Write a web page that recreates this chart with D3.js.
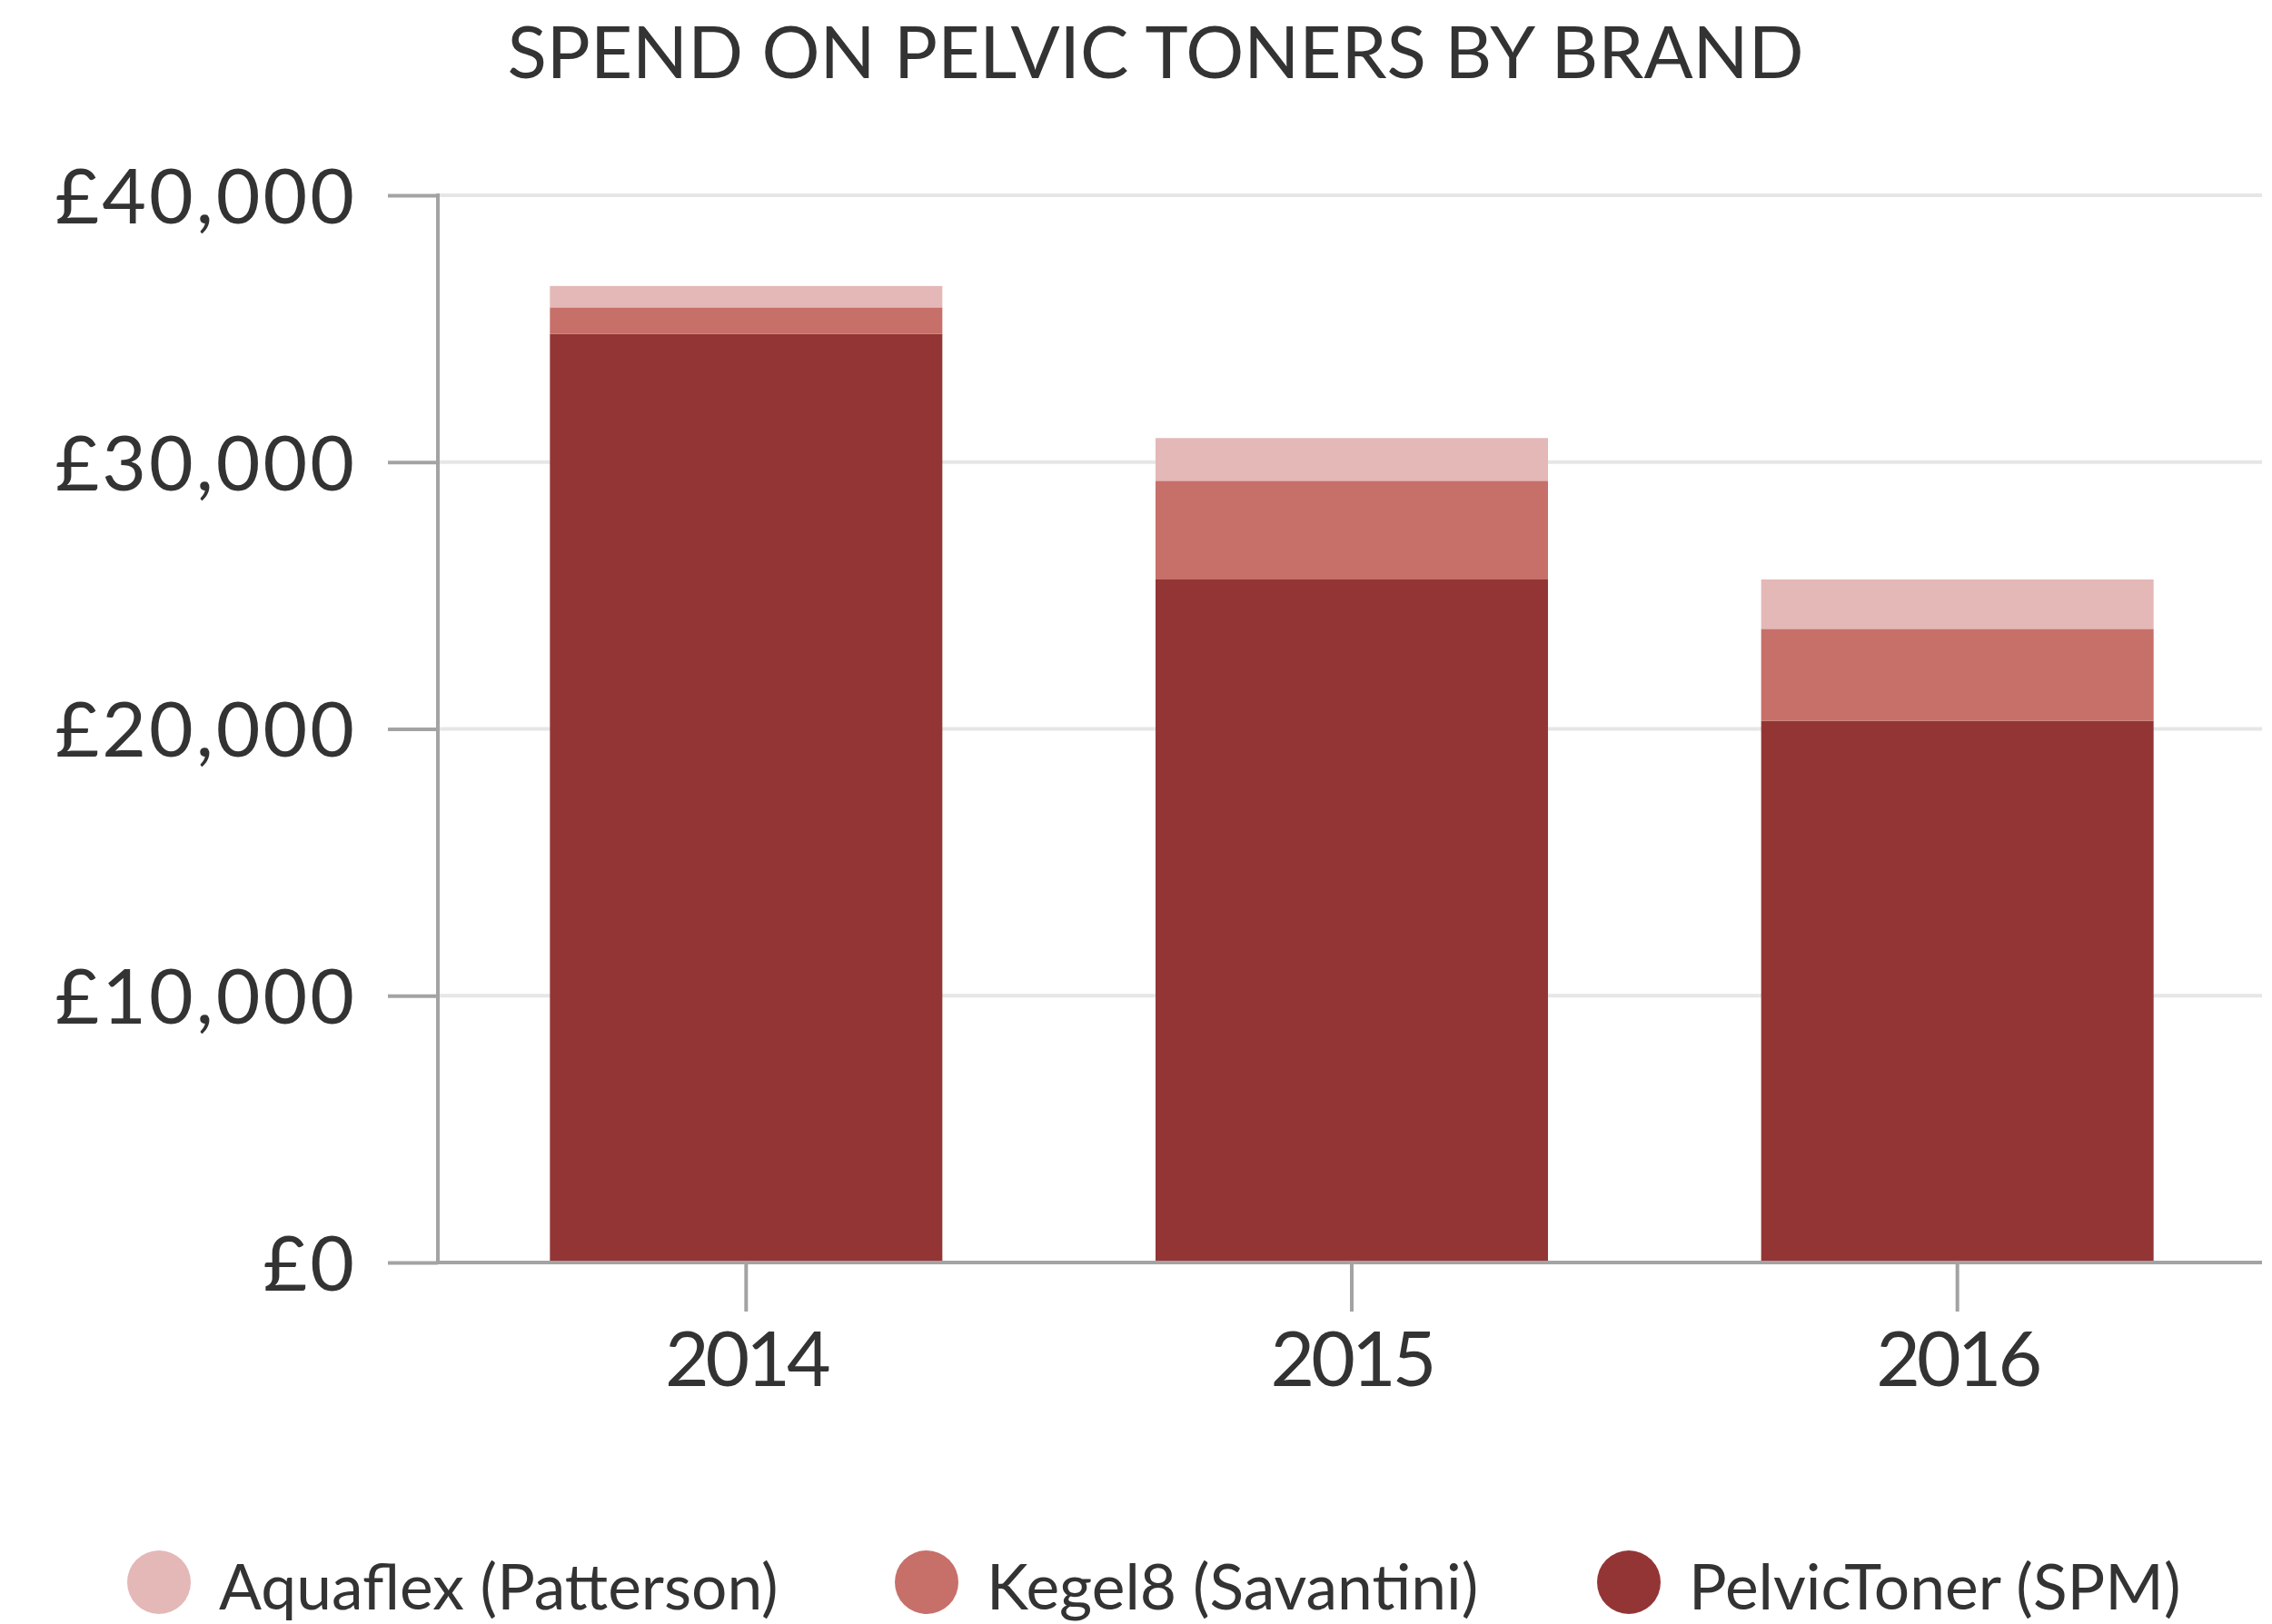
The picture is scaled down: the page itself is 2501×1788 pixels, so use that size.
<!DOCTYPE html>
<html><head><meta charset="utf-8">
<script src="https://cdn.jsdelivr.net/npm/d3@7"></script>
<style>body{margin:0;background:#fff}</style></head><body>
<svg id="c" width="2501" height="1788"></svg>
<script>
const years = ["2014", "2015", "2016"];
const seriesNames = ["Aquaflex (Patterson)", "Kegel8 (Savantini)", "PelvicToner (SPM)"];
const pelvicToner = [34800, 25600, 20300];
const kegel8 = [1000, 3700, 3450];
const aquaflex = [800, 1600, 1850];
const yTicks = [0, 10000, 20000, 30000, 40000];
const colors = ["#e3b8b7", "#c76f69", "#943535"];
const chartTitle = "SPEND ON PELVIC TONERS BY BRAND";

const svg = d3.select("#c");
const FONT = "Lato, 'Open Sans', sans-serif";
const pLeft = 482, pRight = 2490, pTop = 215, pBottom = 1390;

const rows = years.map((yr, i) => ({year: yr, pelvic: pelvicToner[i], kegel: kegel8[i], aqua: aquaflex[i]}));
const stacked = d3.stack().keys(["pelvic", "kegel", "aqua"])(rows);
const colorOf = {pelvic: colors[2], kegel: colors[1], aqua: colors[0]};

const x = d3.scaleBand().domain(years).range([488, 2488]).paddingInner(0.352).paddingOuter(0.176);
const y = d3.scaleLinear().domain([0, 40000]).range([pBottom, pTop]);

// grid
svg.append("g").selectAll("line").data(yTicks.filter(d => d > 0)).join("line")
  .attr("x1", pLeft).attr("x2", pRight)
  .attr("y1", d => y(d)).attr("y2", d => y(d))
  .attr("stroke", "#e6e6e6").attr("stroke-width", 4);

// bars
svg.append("g").selectAll("g").data(stacked).join("g")
  .attr("fill", d => colorOf[d.key])
  .selectAll("rect").data(d => d).join("rect")
  .attr("x", d => x(d.data.year))
  .attr("width", x.bandwidth())
  .attr("y", d => y(d[1]))
  .attr("height", d => y(d[0]) - y(d[1]));

// y axis
const yAxis = d3.axisLeft(y).tickValues(yTicks).tickSize(55).tickPadding(34)
  .tickFormat(d => "£" + d3.format(",")(d));
const gy = svg.append("g").attr("transform", `translate(${pLeft},0)`).call(yAxis);
gy.select(".domain").remove();
gy.append("line").attr("x1", 0).attr("x2", 0).attr("y1", pTop - 2).attr("y2", pBottom)
  .attr("stroke", "#a3a3a3").attr("stroke-width", 4);
gy.selectAll(".tick line").attr("stroke", "#a3a3a3").attr("stroke-width", 4);
gy.selectAll(".tick text").attr("fill", "#333").attr("font-family", FONT)
  .attr("font-size", 84).attr("letter-spacing", 3).attr("dy", "0.36em");

// x axis
const xAxis = d3.axisBottom(x).tickSize(54).tickPadding(22);
const gx = svg.append("g").attr("transform", `translate(0,${pBottom})`).call(xAxis);
gx.select(".domain").remove();
gx.append("line").attr("x1", pLeft - 2).attr("x2", pRight).attr("y1", 0).attr("y2", 0)
  .attr("stroke", "#a3a3a3").attr("stroke-width", 4);
gx.selectAll(".tick line").attr("stroke", "#a3a3a3").attr("stroke-width", 4);
gx.selectAll(".tick text").attr("fill", "#333").attr("font-family", FONT)
  .attr("font-size", 84).attr("letter-spacing", -4).attr("dy", "0.71em");

// title
svg.append("text").attr("x", 1272).attr("y", 86).attr("text-anchor", "middle")
  .attr("font-family", FONT).attr("font-size", 80).attr("fill", "#333").text(chartTitle);

// legend
const legX = [175, 1020, 1793];
const leg = svg.append("g").selectAll("g").data(seriesNames).join("g")
  .attr("transform", (d, i) => `translate(${legX[i]},1742)`);
leg.append("circle").attr("r", 35).attr("fill", (d, i) => colors[i]);
leg.append("text").attr("x", 66).attr("y", 30).attr("font-family", FONT)
  .attr("font-size", 69.5).attr("fill", "#333").text(d => d);
</script>
</body></html>
